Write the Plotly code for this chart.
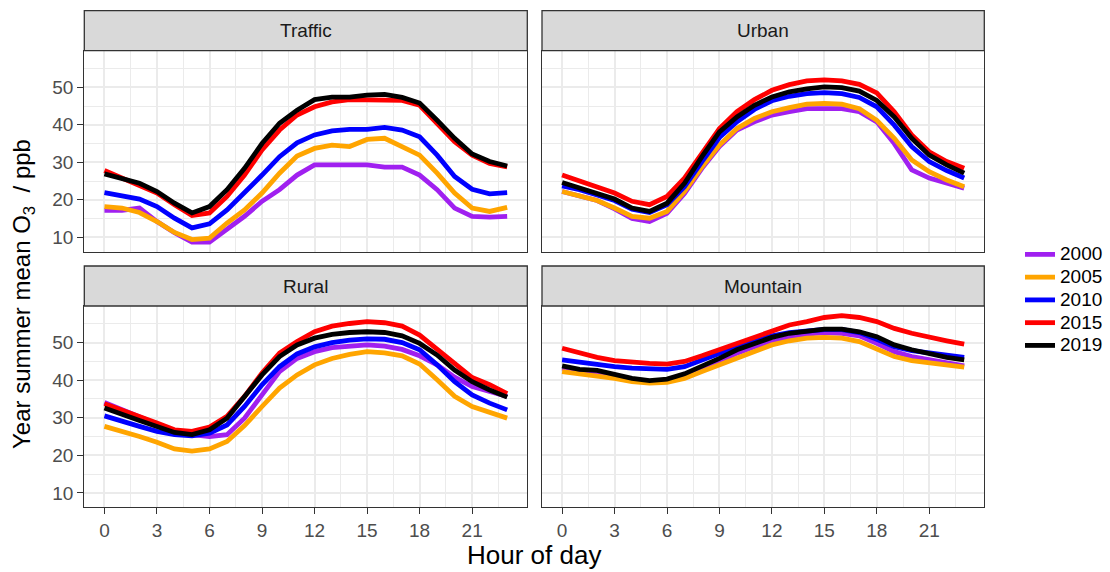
import plotly.graph_objects as go

# ---- data: hourly summer-mean ozone (ppb) by site type and year ----
hours = list(range(24))
years = ["2000", "2005", "2010", "2015", "2019"]
year_colors = ["#A020F0", "#FFA500", "#0000FF", "#FF0000", "#000000"]
panels = ["Traffic", "Urban", "Rural", "Mountain"]

traffic_2000 = [17.2, 17.2, 17.8, 14.2, 11.2, 8.7, 8.7, 12.0, 15.6, 19.6, 22.7, 26.6,
                29.3, 29.3, 29.3, 29.3, 28.7, 28.7, 26.6, 22.7, 17.8, 15.6, 15.4, 15.6]
traffic_2005 = [18.2, 17.8, 16.6, 14.2, 11.3, 9.4, 9.8, 13.8, 17.3, 21.8, 27.1, 31.7,
                33.7, 34.6, 34.2, 36.1, 36.4, 34.2, 31.9, 27.1, 21.8, 17.8, 16.9, 18.0]
traffic_2010 = [21.9, 21.1, 20.2, 18.2, 15.1, 12.5, 13.6, 17.3, 21.8, 26.6, 31.5, 35.2,
                37.3, 38.4, 38.8, 38.8, 39.3, 38.6, 36.8, 31.9, 26.2, 22.8, 21.6, 21.9]
traffic_2015 = [27.8, 25.8, 24.0, 21.8, 18.7, 15.8, 16.5, 20.9, 26.6, 33.3, 38.6, 42.6,
                44.8, 46.1, 46.7, 46.7, 46.7, 46.5, 45.2, 40.4, 35.5, 31.9, 29.7, 28.8]
traffic_2019 = [26.9, 25.6, 24.4, 22.2, 19.1, 16.5, 18.2, 22.7, 28.4, 35.0, 40.4, 43.9,
                46.7, 47.4, 47.4, 47.9, 48.1, 47.3, 45.8, 41.2, 36.4, 32.2, 30.2, 29.0]

urban_2000 = [22.2, 21.0, 19.8, 17.6, 15.0, 14.2, 16.4, 21.7, 28.4, 34.2, 38.6, 40.8,
              42.6, 43.5, 44.3, 44.3, 44.3, 43.5, 40.8, 35.0, 28.0, 25.8, 24.4, 23.1]
urban_2005 = [22.2, 20.9, 19.8, 17.8, 15.6, 15.1, 16.9, 22.2, 28.8, 34.6, 39.0, 41.7,
              43.5, 44.6, 45.5, 45.7, 45.5, 44.3, 41.2, 36.4, 30.6, 27.5, 25.3, 23.5]
urban_2010 = [23.7, 22.7, 21.3, 19.8, 17.5, 16.6, 18.7, 23.5, 30.2, 36.6, 40.8, 44.1,
              46.4, 47.6, 48.3, 48.6, 48.3, 47.3, 44.8, 39.9, 34.2, 30.2, 27.8, 25.8]
urban_2015 = [26.6, 24.9, 23.5, 21.8, 19.6, 18.7, 20.9, 25.8, 32.4, 39.0, 43.5, 46.7,
              49.2, 50.7, 51.7, 52.0, 51.7, 50.8, 48.5, 43.5, 37.3, 32.8, 30.2, 28.4]
urban_2019 = [24.6, 23.1, 21.8, 20.2, 17.8, 16.9, 19.1, 24.4, 31.5, 38.1, 42.1, 45.2,
              47.4, 48.8, 49.6, 50.1, 49.9, 49.0, 46.5, 42.1, 36.4, 31.9, 29.3, 27.1]

rural_2000 = [34.1, 32.1, 30.4, 28.4, 26.4, 25.5, 25.0, 25.5, 29.9, 36.1, 42.3, 45.8,
              47.6, 48.7, 49.2, 49.4, 49.1, 48.2, 46.5, 44.1, 40.8, 38.3, 37.0, 35.7]
rural_2005 = [27.7, 26.5, 25.0, 23.5, 21.7, 21.1, 21.7, 23.7, 27.9, 33.0, 37.9, 41.4,
              44.1, 45.8, 46.9, 47.6, 47.3, 46.5, 44.3, 40.1, 35.7, 33.0, 31.4, 29.9]
rural_2010 = [30.5, 29.0, 27.7, 26.4, 25.5, 25.2, 25.9, 28.1, 33.0, 38.8, 43.6, 47.0,
              48.9, 50.0, 50.7, 51.0, 50.9, 50.0, 48.1, 44.1, 39.6, 36.1, 33.9, 32.1]
rural_2015 = [33.7, 32.1, 30.4, 28.6, 26.8, 26.4, 27.5, 30.4, 35.7, 41.9, 47.2, 50.3,
              52.9, 54.4, 55.1, 55.6, 55.3, 54.4, 52.0, 48.2, 44.1, 40.7, 38.8, 36.4]
rural_2019 = [32.6, 30.8, 29.3, 27.7, 26.1, 25.5, 26.8, 29.9, 35.7, 41.4, 46.3, 49.4,
              51.2, 52.2, 52.7, 52.9, 52.7, 51.8, 49.8, 46.7, 42.7, 39.6, 37.4, 35.5]

mountain_2000 = [43.2, 42.6, 41.9, 41.2, 40.1, 39.6, 40.1, 41.2, 42.7, 45.0, 47.2, 48.9,
                 50.3, 51.4, 52.3, 52.7, 52.5, 51.8, 49.8, 47.6, 46.3, 45.4, 44.5, 43.8]
mountain_2005 = [42.3, 41.7, 41.4, 40.5, 39.6, 39.2, 39.4, 40.5, 42.3, 44.1, 46.1, 47.9,
                 49.4, 50.5, 51.2, 51.4, 51.2, 50.3, 48.2, 46.3, 45.2, 44.7, 44.1, 43.5]
mountain_2010 = [45.4, 44.7, 44.1, 43.6, 43.2, 42.9, 42.9, 43.6, 45.4, 47.3, 48.9, 50.5,
                 51.8, 52.7, 53.2, 53.5, 53.5, 52.7, 50.9, 48.9, 47.9, 47.2, 46.7, 46.1]
mountain_2015 = [48.5, 47.2, 46.1, 45.2, 44.7, 44.5, 44.3, 45.0, 46.5, 48.1, 49.8, 51.4,
                 52.9, 54.7, 55.6, 56.7, 57.2, 56.7, 55.6, 53.8, 52.5, 51.4, 50.5, 49.6]
mountain_2019 = [43.8, 42.9, 42.6, 41.4, 40.5, 39.9, 40.3, 41.7, 43.6, 45.8, 48.1, 49.8,
                 51.4, 52.5, 53.2, 53.6, 53.6, 52.9, 51.6, 49.4, 48.1, 47.0, 46.1, 45.4]

x_ticks = [0, 3, 6, 9, 12, 15, 18, 21]
y_ticks = [10, 20, 30, 40, 50]

series = {
    "Traffic": [traffic_2000, traffic_2005, traffic_2010, traffic_2015, traffic_2019],
    "Urban": [urban_2000, urban_2005, urban_2010, urban_2015, urban_2019],
    "Rural": [rural_2000, rural_2005, rural_2010, rural_2015, rural_2019],
    "Mountain": [mountain_2000, mountain_2005, mountain_2010, mountain_2015, mountain_2019],
}

# ---- geometry (pixels on a 1110 x 572 canvas) ----
W, H = 1110, 572
FONT = "Arial, 'Liberation Sans', sans-serif"
col_px = [(84.3, 527.3), (542.0, 984.3)]
row_px = [(50.7, 251.7), (306.0, 507.3)]   # panel top/bottom
strip_h = 40.0
GRID = "#EBEBEB"
BORDER = "#333333"

def px_x(v):
    return v / W

def px_y(v):
    return 1 - v / H

fig = go.Figure()

for i, name in enumerate(panels):
    ax = "" if i == 0 else str(i + 1)
    for yr, col, vals in zip(years, year_colors, series[name]):
        fig.add_trace(go.Scatter(
            x=hours, y=vals, mode="lines",
            line=dict(color=col, width=4.8),
            name=f"<span style='font-size:19px'>{yr}</span>",
            legendgroup=yr, showlegend=(i == 0),
            xaxis="x" + ax, yaxis="y" + ax,
        ))

x_minor = [1.5 + 3 * k for k in range(8)]
y_minor = [15, 25, 35, 45, 55]
x_range = [-1.15, 24.15]
y_range = [6.16, 59.76]

layout_axes = {}
shapes = []
annotations = []
for i, name in enumerate(panels):
    r, c = divmod(i, 2)
    ax = "" if i == 0 else str(i + 1)
    x0, x1 = col_px[c]
    t, b = row_px[r]
    bottom = r == 1
    left = c == 0
    layout_axes["xaxis" + ax] = dict(
        domain=[px_x(x0), px_x(x1)], anchor="y" + ax, range=x_range,
        tickvals=x_ticks, showticklabels=bottom,
        ticks="outside" if bottom else "", ticklen=6, tickwidth=1.3, tickcolor=BORDER,
        tickfont=dict(family=FONT, size=19, color="#4D4D4D"),
        showgrid=True, gridcolor=GRID, gridwidth=2.0,
        minor=dict(tickvals=x_minor, showgrid=True, gridcolor=GRID, gridwidth=1.2),
        showline=True, linecolor=BORDER, linewidth=1.3, mirror=True, zeroline=False,
        fixedrange=True,
    )
    layout_axes["yaxis" + ax] = dict(
        domain=[px_y(b), px_y(t)], anchor="x" + ax, range=y_range,
        tickvals=y_ticks, showticklabels=left,
        ticks="outside" if left else "", ticklen=6, tickwidth=1.3, tickcolor=BORDER,
        tickfont=dict(family=FONT, size=19, color="#4D4D4D"),
        showgrid=True, gridcolor=GRID, gridwidth=2.0,
        minor=dict(tickvals=y_minor, showgrid=True, gridcolor=GRID, gridwidth=1.2),
        showline=True, linecolor=BORDER, linewidth=1.3, mirror=True, zeroline=False,
        fixedrange=True,
    )
    # facet strip
    shapes.append(dict(
        type="rect", xref="paper", yref="paper",
        x0=px_x(x0), x1=px_x(x1), y0=px_y(t), y1=px_y(t - strip_h),
        fillcolor="#D9D9D9", line=dict(color=BORDER, width=1.3), layer="above",
    ))
    annotations.append(dict(
        text=name, xref="paper", yref="paper",
        x=px_x((x0 + x1) / 2), y=px_y(t - strip_h / 2),
        xanchor="center", yanchor="middle", showarrow=False,
        font=dict(family=FONT, size=19, color="#1A1A1A"),
    ))

annotations.append(dict(
    text="Hour of day", xref="paper", yref="paper",
    x=px_x((col_px[0][0] + col_px[1][1]) / 2), y=px_y(555),
    xanchor="center", yanchor="middle", showarrow=False,
    font=dict(family=FONT, size=26, color="#000000"),
))
annotations.append(dict(
    text="Year summer mean O<sub>3</sub>\u00a0 / ppb", xref="paper", yref="paper",
    x=px_x(23), y=px_y(294),
    xanchor="center", yanchor="middle", showarrow=False, textangle=-90,
    font=dict(family=FONT, size=24, color="#000000"),
))

fig.update_layout(
    width=W, height=H,
    margin=dict(l=0, r=0, t=0, b=0),
    paper_bgcolor="white", plot_bgcolor="white",
    font=dict(family=FONT, color="#000000"),
    shapes=shapes, annotations=annotations,
    legend=dict(
        x=px_x(1020), y=px_y(238), xanchor="left", yanchor="top",
        font=dict(family=FONT, size=15.2, color="#000000"),
        bgcolor="rgba(0,0,0,0)", borderwidth=0, tracegroupgap=0,
        itemclick=False, itemdoubleclick=False,
    ),
    showlegend=True,
    **layout_axes,
)

fig.write_html("out.html")
